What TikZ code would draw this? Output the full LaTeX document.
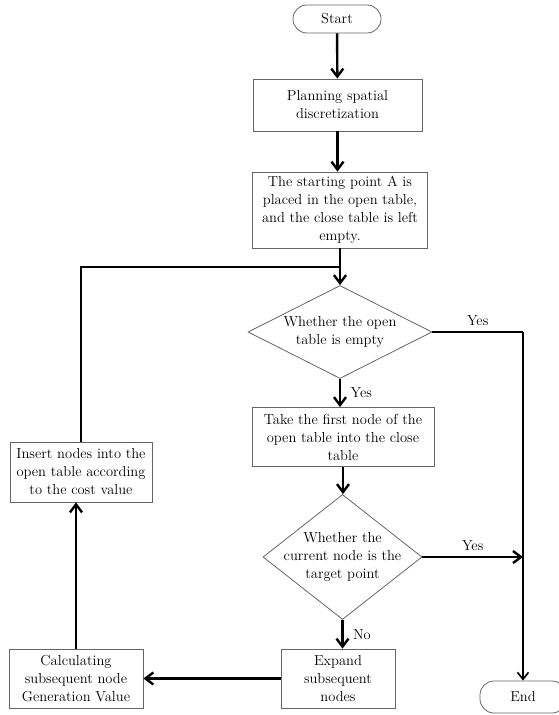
\documentclass[tikz,border=0pt]{standalone}
\usepackage{tikz}
\usetikzlibrary{arrows.meta,shapes.geometric}

\begin{document}
\begin{tikzpicture}[x=1pt,y=-1pt]
\colorlet{rim}{black!60}
\tikzset{
  txt/.style={font=\fontsize{14.5}{18}\selectfont},
  box/.style={draw=rim,line width=0.8pt,fill=white,inner sep=0pt,align=center,txt},
  term/.style={box,rounded corners=14pt},
  decision/.style={draw=rim,line width=0.8pt,diamond,inner sep=0pt},
  flow/.style={line width=2.4pt,-{Straight Barb[length=8pt,width=12pt]}},
  back/.style={line width=1.6pt}
}
\useasboundingbox (0,0) rectangle (559,715);

% main column, top to bottom
\node[term,minimum width=88,minimum height=28] (start) at (337,19) {Start};
\node[box,minimum width=169,minimum height=52] (plan) at (337.5,105) {Planning spatial\\discretization};
\node[box,minimum width=175,minimum height=76] (init) at (340,210) {The starting point A is\\placed in the open table,\\and the close table is left\\empty.};
\node[decision,minimum width=184,minimum height=93,
      label={[txt,align=center]center:Whether the open\\table is empty}] (empty) at (340,332) {};
\node[box,minimum width=182,minimum height=59] (take) at (343,437) {Take the first node of the\\open table into the close\\table};
\node[decision,minimum width=159,minimum height=125,
      label={[txt,align=center]center:Whether the\\current node is the\\target point}] (target) at (342.5,557) {};
\node[box,minimum width=114,minimum height=59] (expand) at (338,678.5) {Expand\\subsequent\\nodes};

% loop back on the left
\node[box,minimum width=134,minimum height=59] (calc) at (76,678.5) {Calculating\\subsequent node\\Generation Value};
\node[box,minimum width=142,minimum height=60] (insert) at (81,472) {Insert nodes into the\\open table according\\to the cost value};

% exit on the right
\node[term,minimum width=86,minimum height=32] (stop) at (523,697) {End};
\coordinate (exit) at (523,332);
\coordinate (merge) at (340,267);

\draw[flow] (start) -- (plan);
\draw[flow] (plan.south) -- (plan.south |- init.north);
\draw[flow] (init) -- (empty);
\draw[back] (insert.north) |- (merge);
\draw[flow] (empty.south) -- node[txt,right=6pt] {Yes} (empty.south |- take.north);
\draw[flow] (take.south) -- (take.south |- target.north);
\draw[flow] (target.south) -- node[txt,right=6pt] {No} (target.south |- expand.north);
\draw[flow] (expand) -- (calc);
\draw[flow] (calc.north) -- (calc.north |- insert.south);
\draw[back] (empty.east) -- node[txt,above=2pt] {Yes} (exit);
\draw[back,-{Straight Barb[length=7pt,width=11pt]}] (exit) -- (stop.north);
\draw[flow] (target.east) -- node[txt,above=2pt] {Yes} (target.east -| exit);
\end{tikzpicture}
\end{document}
